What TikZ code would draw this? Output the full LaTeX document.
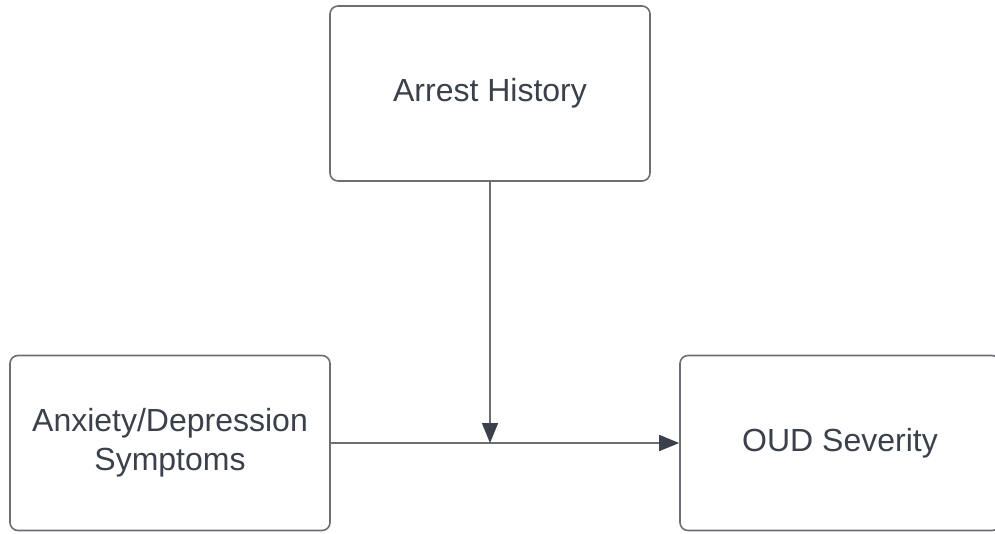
\documentclass[tikz,border=0pt]{standalone}
\usepackage{fontspec}
\setmainfont{Liberation Sans}
\usetikzlibrary{arrows.meta}
\definecolor{boxline}{HTML}{6B6F75}
\definecolor{inkgray}{HTML}{3A414A}

\begin{document}
\begin{tikzpicture}[x=1pt, y=-1pt,
			every node/.style = {shape=rectangle, rounded corners=8pt,
				draw=boxline, line width=1.6pt, align=center, text=inkgray,
	font=\fontsize{32}{39}\selectfont, minimum width=320pt, minimum height=175pt},
	link/.style = {draw=boxline, line width=1.6pt,
	-{Triangle[length=20pt, width=16pt, fill=inkgray, color=inkgray]}}]
	\useasboundingbox (0,0) rectangle (995,533);
	\node (arrest) at (490,93.5) {Arrest History};
	\node (anxiety) at (170,443) {Anxiety/Depression\\Symptoms};
	\node (oud) at (840,443) {OUD Severity};
	\coordinate (meet) at (arrest.south |- anxiety.east);
	\draw[link] (anxiety.east) -- (oud.west);
	\draw[link] (arrest.south) -- (meet);
\end{tikzpicture}
\end{document}
